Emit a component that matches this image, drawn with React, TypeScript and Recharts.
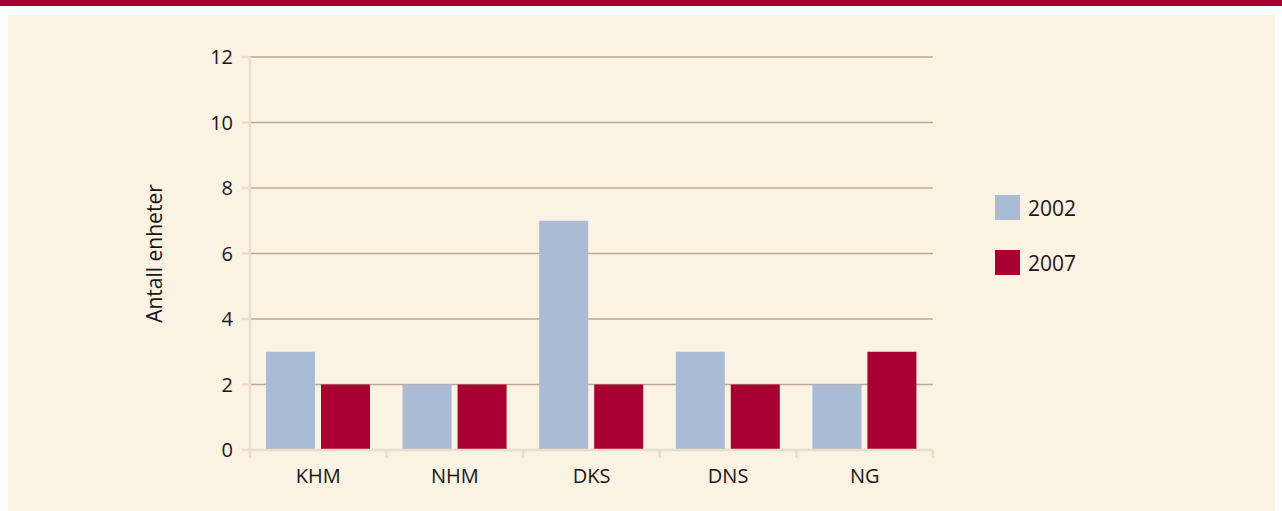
import React from 'react';
import { BarChart, Bar, XAxis, YAxis, CartesianGrid, Label } from 'recharts';

const categories = ['KHM', 'NHM', 'DKS', 'DNS', 'NG'];
const series2002 = [3, 2, 7, 3, 2];
const series2007 = [2, 2, 2, 2, 3];
const seriesNames = ['2002', '2007'];
const yTicks = [0, 2, 4, 6, 8, 10, 12];

const COLORS = ['#A9BBD5', '#A80030'];
const AXIS_COLOR = '#E8DFCB';
const TEXT_COLOR = '#1a1616';
const FONT = '"Open Sans", "Noto Sans", sans-serif';

const CHART_W = 1282;
const MARGIN = { top: 57, right: 349, bottom: 28, left: 150 };
const YAXIS_W = 100;
const PLOT_W = CHART_W - MARGIN.left - MARGIN.right - YAXIS_W;

const data = categories.map((c, i) => ({ cat: c, s2002: series2002[i], s2007: series2007[i] }));

const CategoryTick = (props: any) => {
  const { x, y, payload, index } = props;
  const half = payload && payload.offset ? payload.offset : PLOT_W / categories.length / 2;
  const isLast = index === categories.length - 1;
  return (
    <g>
      <line x1={x - half} x2={x - half} y1={y} y2={y + 8} stroke={AXIS_COLOR} strokeWidth={2.5} />
      {isLast && <line x1={x + half} x2={x + half} y1={y} y2={y + 8} stroke={AXIS_COLOR} strokeWidth={2.5} />}
      <text x={x} y={y + 33} textAnchor="middle" fill={TEXT_COLOR} fontFamily={FONT} fontSize={20}>
        {payload.value}
      </text>
    </g>
  );
};

const YTick = (props: any) => {
  const { x, y, payload } = props;
  return (
    <text x={x} y={y} dy={7} textAnchor="end" fill={TEXT_COLOR} fontFamily={FONT} fontSize={20}>
      {payload.value}
    </text>
  );
};

const LegendBlock = () => (
  <div style={{ position: 'absolute', left: 995, top: 195, fontFamily: FONT, fontSize: 21, color: TEXT_COLOR }}>
    {seriesNames.map((n, i) => (
      <div key={n} style={{ display: 'flex', alignItems: 'center', height: 25, marginBottom: i === 0 ? 30 : 0 }}>
        <div style={{ width: 25, height: 25, background: COLORS[i], marginRight: 8 }} />
        <span>{n}</span>
      </div>
    ))}
  </div>
);

export default function App() {
  return (
    <div style={{ position: 'absolute', left: 0, top: 0, width: 1282, height: 511, background: '#ffffff', overflow: 'hidden' }}>
      <div style={{ position: 'absolute', left: 0, top: 0, width: 1282, height: 6, background: '#A80030' }} />
      <div style={{ position: 'absolute', left: 8, top: 15, width: 1267, height: 496, background: '#FAF2E2' }} />
      <div style={{ position: 'absolute', left: 0, top: 0 }}>
        <BarChart
          width={CHART_W}
          height={511}
          data={data}
          margin={MARGIN}
          barCategoryGap={16}
          barGap={6}
        >
          <CartesianGrid horizontal vertical={false} stroke="#BEA88F" strokeWidth={1.5} />
          <XAxis
            dataKey="cat"
            height={33}
            axisLine={{ stroke: AXIS_COLOR, strokeWidth: 2.5 }}
            tickLine={false}
            tickSize={0}
            tickMargin={0}
            tick={<CategoryTick />}
            interval={0}
          />
          <YAxis
            width={YAXIS_W}
            domain={[0, 12]}
            ticks={yTicks}
            interval={0}
            axisLine={{ stroke: AXIS_COLOR, strokeWidth: 2.5 }}
            tickLine={{ stroke: AXIS_COLOR, strokeWidth: 2.5 }}
            tickSize={8}
            tickMargin={9}
            tick={<YTick />}
          >
            <Label
              value="Antall enheter"
              angle={-90}
              position="insideLeft"
              offset={5}
              style={{ textAnchor: 'middle', fill: TEXT_COLOR, fontFamily: FONT, fontSize: 21 }}
            />
          </YAxis>
          <Bar dataKey="s2002" name={seriesNames[0]} fill={COLORS[0]} barSize={49} isAnimationActive={false} />
          <Bar dataKey="s2007" name={seriesNames[1]} fill={COLORS[1]} barSize={49} isAnimationActive={false} />
        </BarChart>
      </div>
      <LegendBlock />
    </div>
  );
}
